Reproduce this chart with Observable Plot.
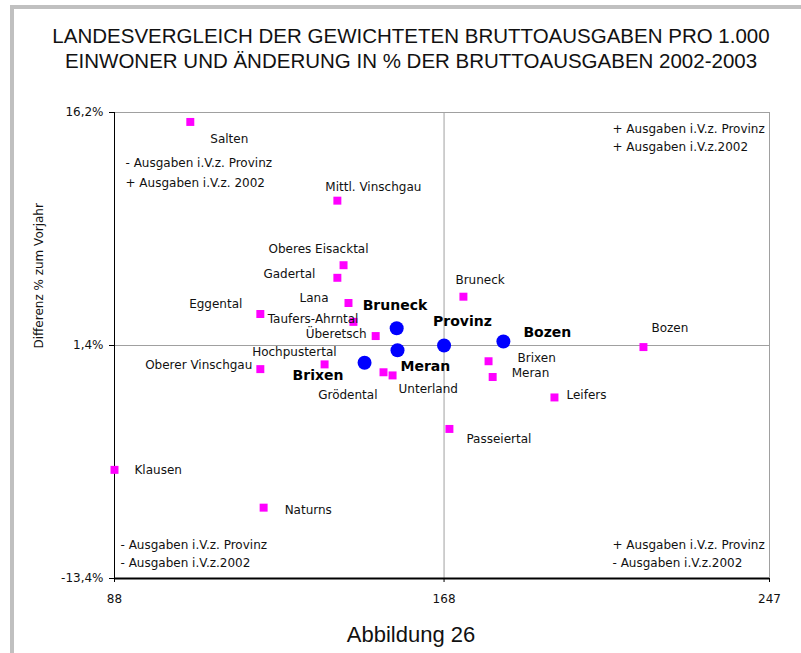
<!DOCTYPE html>
<html>
<head>
<meta charset="utf-8">
<script src="https://cdn.jsdelivr.net/npm/d3@7"></script>
<script src="https://cdn.jsdelivr.net/npm/@observablehq/plot@0.6"></script>
<style>
  html, body { margin: 0; padding: 0; background: #fff; }
  body { width: 801px; height: 653px; position: relative; overflow: hidden; }
  #frame { position: absolute; left: 10px; top: 5px; width: 800px; height: 660px; z-index: 5;
           pointer-events: none; background: transparent;
           border-left: 4px solid #c0c0c0; border-top: 4px solid #c0c0c0; }
  #title { position: absolute; left: 20px; width: 782px; top: 23px; text-align: center;
           font-family: "Liberation Sans", Arial, sans-serif; font-size: 20.5px; line-height: 25px; color: #111; }
  #chart { position: absolute; left: 0; top: 90px; }
  #caption { position: absolute; left: 20px; width: 782px; top: 622px; text-align: center;
             font-family: "Liberation Sans", Arial, sans-serif; font-size: 22px; line-height: 26px; color: #111; }
</style>
</head>
<body>
<div id="title">LANDESVERGLEICH DER GEWICHTETEN BRUTTOAUSGABEN PRO 1.000<br>EINWONER UND ÄNDERUNG IN % DER BRUTTOAUSGABEN 2002-2003</div>
<div id="chart"></div>
<div id="caption">Abbildung 26</div>
<div id="frame"></div>
<script>
// ---------- data ----------
const municipalities = ["Salten", "Mittl. Vinschgau", "Oberes Eisacktal", "Gadertal", "Lana",
  "Taufers-Ahrntal", "Eggental", "Überetsch", "Hochpustertal", "Oberer Vinschgau", "Grödental",
  "Unterland", "Bruneck", "Brixen", "Meran", "Leifers", "Bozen", "Passeiertal", "Klausen", "Naturns"];
const munSpending = [106.4, 142.1, 143.6, 142.1, 144.8, 146.0, 123.4, 151.4, 139.0, 123.4, 153.3,
  155.5, 172.7, 178.8, 179.8, 194.8, 216.4, 169.3, 88.0, 124.2];
const munChange = [15.6, 10.6, 6.5, 5.7, 4.1, 2.9, 3.4, 2.0, 0.2, -0.1, -0.3,
  -0.5, 4.5, 0.4, -0.6, -1.9, 1.3, -3.9, -6.5, -8.9];

const districts = ["Bruneck", "Meran", "Brixen", "Provinz", "Bozen"];
const distSpending = [156.5, 156.7, 148.7, 168.0, 182.4];
const distChange = [2.5, 1.1, 0.3, 1.4, 1.65];

const xTicks = [88, 168, 247];
const yTicks = [-13.4, 1.4, 16.2];
const xMid = 168;
const yMid = 1.4;

const notesTopLeft = ["- Ausgaben i.V.z. Provinz", "+ Ausgaben i.V.z. 2002"];
const notesTopRight = ["+ Ausgaben i.V.z. Provinz", "+ Ausgaben i.V.z.2002"];
const notesBottomLeft = ["- Ausgaben i.V.z. Provinz", "- Ausgaben i.V.z.2002"];
const notesBottomRight = ["+ Ausgaben i.V.z. Provinz", "- Ausgaben i.V.z.2002"];
const yLabel = "Differenz % zum Vorjahr";

// ---------- label layout (pixel offsets from the point) ----------
const munLabelLayout = {
  "Salten": [20, 17, "start"],
  "Mittl. Vinschgau": [-12, -14, "start"],
  "Oberes Eisacktal": [25, -16, "end"],
  "Gadertal": [-22, -4, "end"],
  "Lana": [-20, -5, "end"],
  "Taufers-Ahrntal": [5, -3, "end"],
  "Eggental": [-18, -10, "end"],
  "Überetsch": [-9, -2, "end"],
  "Hochpustertal": [12, -12, "end"],
  "Oberer Vinschgau": [-8, -4, "end"],
  "Grödental": [-6, 23, "end"],
  "Unterland": [6, 14, "start"],
  "Bruneck": [-8, -17, "start"],
  "Brixen": [29, -3, "start"],
  "Meran": [19, -4, "start"],
  "Leifers": [12, -2, "start"],
  "Bozen": [8, -19, "start"],
  "Passeiertal": [17, 10, "start"],
  "Klausen": [20, 0, "start"],
  "Naturns": [21, 3, "start"]
};
const distLabelLayout = {
  "Bruneck": [-34, -23, "start"],
  "Meran": [3, 16, "start"],
  "Brixen": [-72, 13, "start"],
  "Provinz": [-11, -24, "start"],
  "Bozen": [20, -9, "start"]
};

const mun = municipalities.map((name, i) => ({name, x: munSpending[i], y: munChange[i]}));
const dist = districts.map((name, i) => ({name, x: distSpending[i], y: distChange[i]}));

const fmtY = d => d.toFixed(1).replace(".", ",") + "%";
const gray = "#a0a0a0";
const txt = "#111";

const munLabels = mun.map(d => {
  const [dx, dy, anchor] = munLabelLayout[d.name];
  return Plot.text([d], {x: "x", y: "y", text: "name", dx, dy, textAnchor: anchor,
    fontSize: 12, fill: txt});
});
const distLabels = dist.map(d => {
  const [dx, dy, anchor] = distLabelLayout[d.name];
  return Plot.text([d], {x: "x", y: "y", text: "name", dx, dy, textAnchor: anchor,
    fontSize: 14, fontWeight: "bold", fill: "#000"});
});

function notes(lines, anchor, dx, dy0, step) {
  return lines.map((t, i) => Plot.text([t], {frameAnchor: anchor, dx, dy: dy0 + i * step,
    text: d => d, textAnchor: "start", lineAnchor: "middle", fontSize: 12, fill: txt}));
}

const chart = Plot.plot({
  width: 801,
  height: 530,
  marginTop: 22,
  marginBottom: 42,
  marginLeft: 114,
  marginRight: 32,
  style: {fontFamily: "DejaVu Sans, Verdana, sans-serif", fontSize: "12px", color: txt, background: "transparent", overflow: "visible"},
  x: {domain: [88, 247], label: null},
  y: {domain: [-13.4, 16.2], label: null},
  marks: [
    Plot.ruleY([yTicks[2]], {stroke: gray, strokeWidth: 1}),
    Plot.ruleX([xTicks[2]], {stroke: gray, strokeWidth: 1}),
    Plot.ruleY([yMid], {stroke: gray, strokeWidth: 1}),
    Plot.ruleX([xMid], {stroke: gray, strokeWidth: 1}),
    Plot.ruleX([xTicks[0]], {stroke: "#000", strokeWidth: 1}),
    Plot.ruleY([yTicks[0]], {stroke: "#000", strokeWidth: 2}),
    Plot.axisY({ticks: yTicks, tickFormat: fmtY, tickSize: 5, tickPadding: 6, stroke: "#000", fill: txt, fontSize: 12, label: null}),
    Plot.axisX({ticks: xTicks, tickFormat: d => String(d), tickSize: 4, tickPadding: 12, stroke: "#000", fill: txt, fontSize: 12, label: null}),
    Plot.text([yLabel], {frameAnchor: "left", text: d => d, rotate: -90, dx: -75, dy: 3, fontSize: 12, fill: txt}),
    ...notes(notesTopLeft, "top-left", 11, 51, 20),
    ...notes(notesTopRight, "top-left", 498, 17, 18),
    ...notes(notesBottomLeft, "bottom-left", 6, -33, 18),
    ...notes(notesBottomRight, "bottom-left", 498, -33, 18),
    Plot.dot(mun, {x: "x", y: "y", symbol: "square", r: 4.5, fill: "#ff00ff", stroke: "none"}),
    Plot.dot(dist, {x: "x", y: "y", symbol: "circle", r: 7, fill: "#0000ff", stroke: "none"}),
    ...munLabels,
    ...distLabels
  ]
});
document.getElementById("chart").appendChild(chart);
</script>
</body>
</html>
